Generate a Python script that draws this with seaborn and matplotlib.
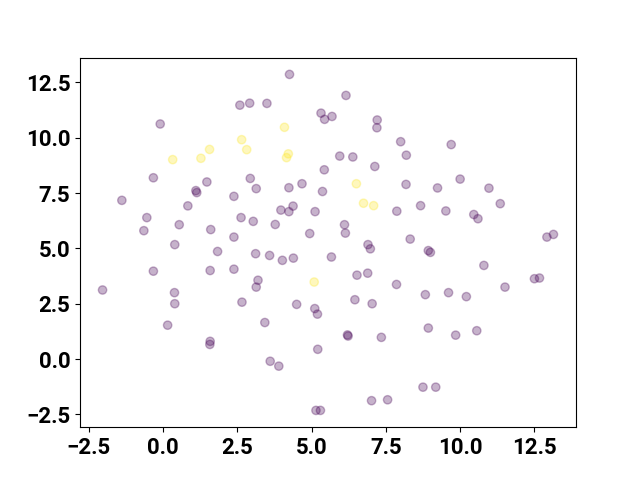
import numpy as np
import pandas as pd
import seaborn as sns
import matplotlib
matplotlib.use("Agg")
import matplotlib.pyplot as plt

# --- data (two classes) ---
x_class0 = [2.59, 2.92, 3.50, 4.26, 6.16, 5.32, 5.44, 5.69, 7.21, 7.20,
            -0.09, 8.00, 9.70, 8.19, 5.95, 6.39, 5.43, 7.13, -0.32, 1.48,
            2.94, 1.11, 1.14, 2.39, -1.38, 0.84, 3.14, 4.24, 4.68, 5.37,
            8.18, 10.00, 9.24, 10.97, -0.54, 2.63, 0.55, -0.64, 1.61, 2.39,
            3.97, 4.24, 4.38, 5.12, 7.87, 8.67, 9.52, 11.35, 10.46, 10.60,
            3.04, 3.78, 6.11, 6.14, 4.94, 12.92, 13.14, 8.32, 0.40, 1.84,
            3.12, 3.59, 4.02, 4.39, 5.67, 6.90, 6.98, 8.93, 9.00, 10.80,
            -0.32, 1.59, 2.39, -2.03, 0.39, 0.40, 2.66, 3.20, 3.14, 6.53,
            6.89, 7.86, 4.50, 5.11, 5.20, 6.46, 7.04, 8.83, 9.61, 10.21,
            11.51, 12.50, 12.67, 0.16, 3.43, 6.21, 6.23, 7.35, 8.93, 9.85,
            10.56, 1.59, 1.58, 5.21, 3.61, 3.90, 7.02, 7.56, 8.75, 9.18,
            5.15, 5.30]
y_class0 = [11.47, 11.56, 11.55, 12.86, 11.91, 11.11, 10.83, 10.96, 10.80, 10.45,
            10.62, 9.82, 9.69, 9.21, 9.17, 9.13, 8.55, 8.70, 8.19, 8.00,
            8.16, 7.61, 7.52, 7.35, 7.17, 6.92, 7.70, 7.74, 7.92, 7.57,
            7.89, 8.13, 7.73, 7.72, 6.39, 6.39, 6.07, 5.80, 5.85, 5.51,
            6.73, 6.66, 6.91, 6.66, 6.68, 6.93, 6.69, 7.02, 6.53, 6.34,
            6.22, 6.08, 6.07, 5.69, 5.67, 5.51, 5.63, 5.42, 5.17, 4.86,
            4.76, 4.68, 4.46, 4.56, 4.61, 5.17, 4.98, 4.90, 4.82, 4.23,
            3.97, 4.00, 4.06, 3.12, 3.00, 2.50, 2.57, 3.56, 3.25, 3.79,
            3.88, 3.37, 2.47, 2.28, 2.03, 2.68, 2.50, 2.91, 3.00, 2.82,
            3.25, 3.63, 3.66, 1.53, 1.65, 1.09, 1.04, 0.98, 1.40, 1.08,
            1.28, 0.80, 0.66, 0.44, -0.10, -0.32, -1.88, -1.84, -1.27, -1.27,
            -2.32, -2.32]

x_class1 = [4.09, 2.65, 2.82, 1.57, 0.33, 1.28, 4.22, 4.16, 6.51, 6.75, 7.09, 5.09]
y_class1 = [10.47, 9.91, 9.46, 9.47, 9.01, 9.07, 9.27, 9.10, 7.92, 7.04, 6.93, 3.48]

df = pd.DataFrame({
    'x': x_class0 + x_class1,
    'y': y_class0 + y_class1,
    'label': [0] * len(x_class0) + [1] * len(x_class1),
})

# --- font: bold ticks ---
plt.rcParams['font.family'] = ['Roboto', 'DejaVu Sans']
plt.rcParams['font.weight'] = 'bold'
plt.rcParams['font.size'] = 16

fig, ax = plt.subplots(figsize=(6.4, 4.8), dpi=100)
sns.scatterplot(data=df, x='x', y='y', hue='label',
                palette={0: '#440154', 1: '#fde725'},
                alpha=0.3, s=36, edgecolor='face', linewidth=1,
                legend=False, ax=ax)
ax.set_xlabel('')
ax.set_ylabel('')
ax.set_xticks([-2.5, 0.0, 2.5, 5.0, 7.5, 10.0, 12.5])
ax.set_yticks([-2.5, 0.0, 2.5, 5.0, 7.5, 10.0, 12.5])

plt.savefig('out.png')
plt.close()
